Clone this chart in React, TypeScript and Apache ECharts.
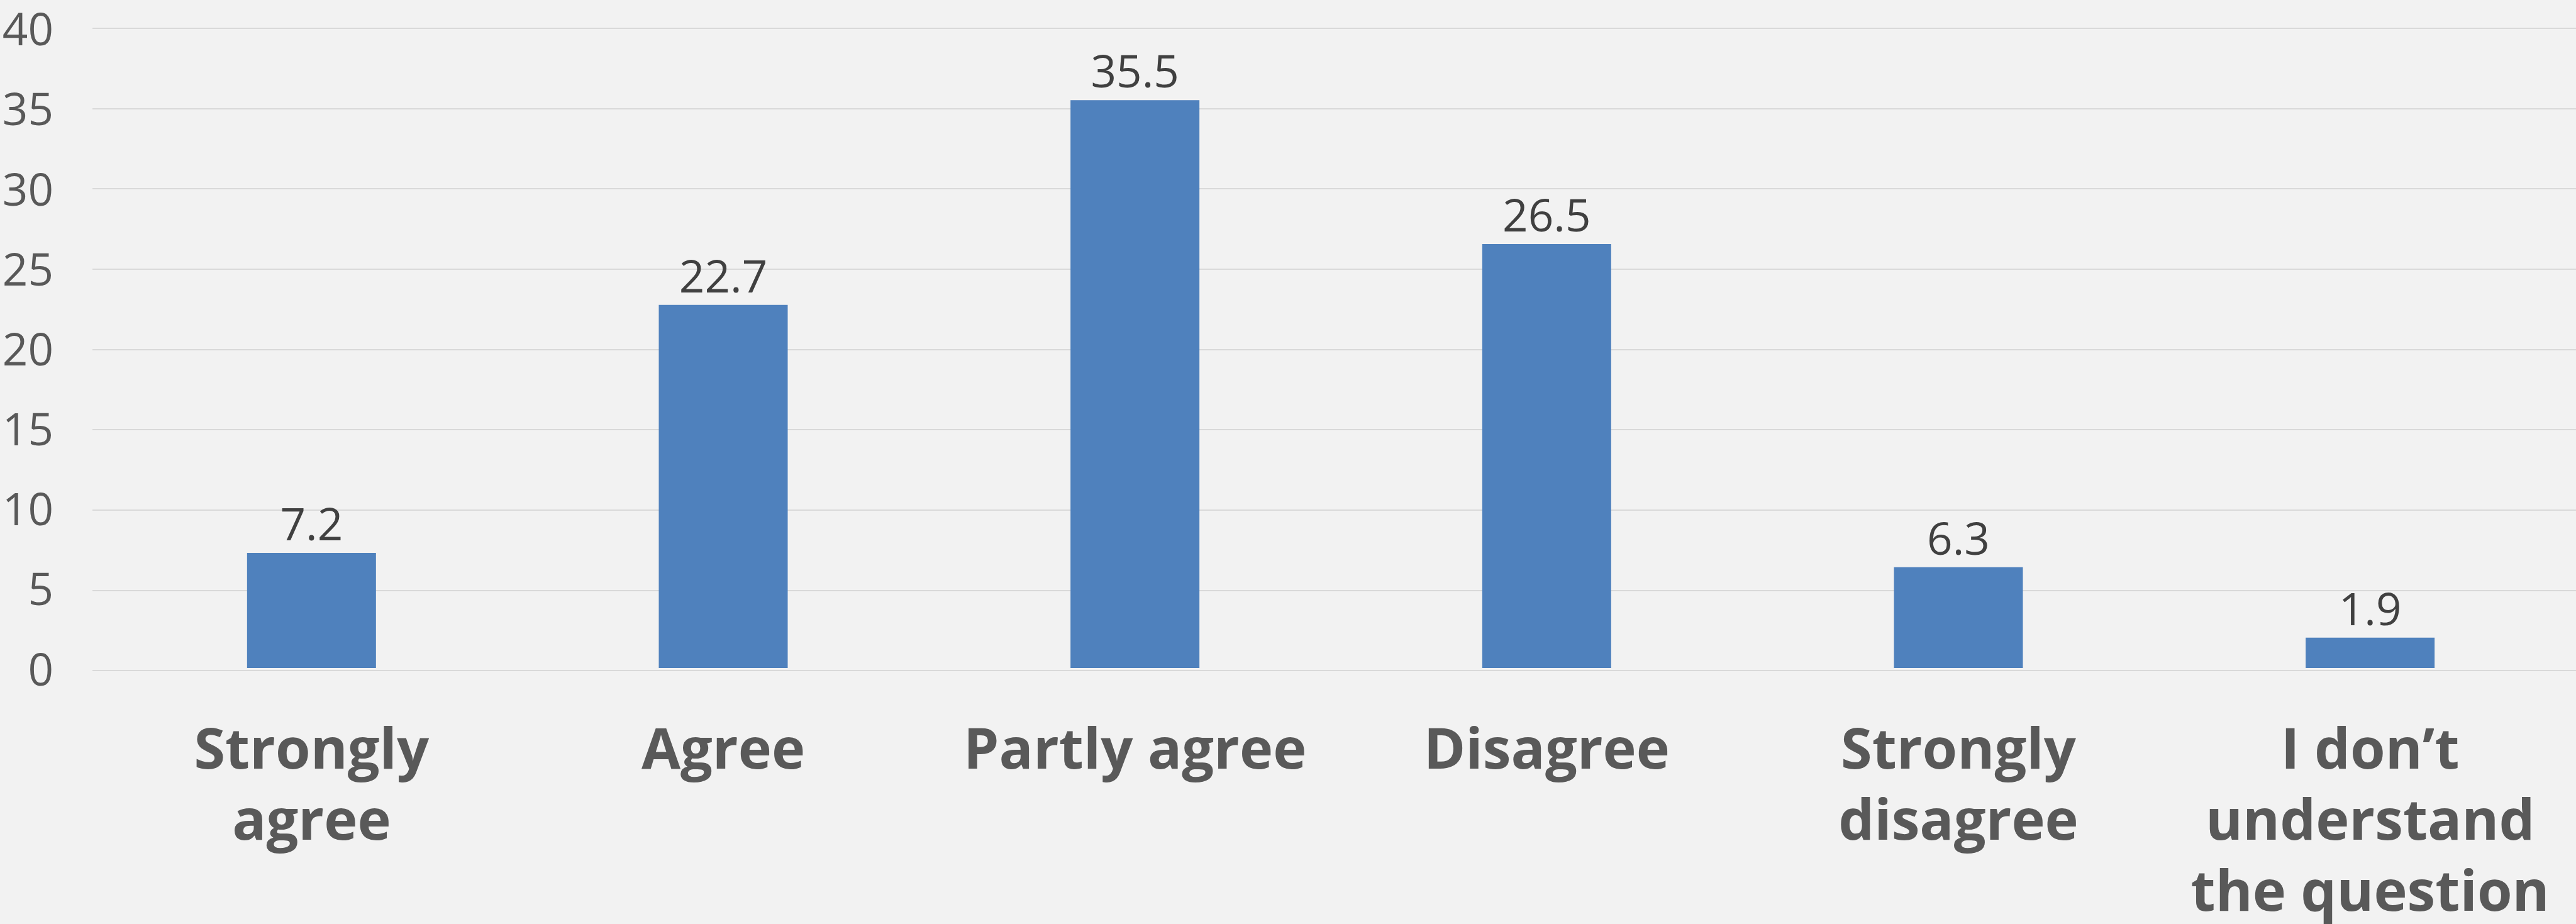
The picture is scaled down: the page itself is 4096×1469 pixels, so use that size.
import React, { useEffect, useRef } from "react";
import * as echarts from "echarts";

const categories = [
  "Strongly agree",
  "Agree",
  "Partly agree",
  "Disagree",
  "Strongly disagree",
  "I don\u2019t understand the question",
];
const wrappedLabels: Record<string, string> = {
  "Strongly agree": "Strongly\nagree",
  "Agree": "Agree",
  "Partly agree": "Partly agree",
  "Disagree": "Disagree",
  "Strongly disagree": "Strongly\ndisagree",
  "I don\u2019t understand the question": "I don\u2019t\nunderstand\nthe question",
};
const values = [7.2, 22.7, 35.5, 26.5, 6.3, 1.9];
const yMin = 0;
const yMax = 40;
const yStep = 5;

export default function App() {
  const ref = useRef<HTMLDivElement>(null);
  useEffect(() => {
    if (!ref.current) return;
    const chart = echarts.init(ref.current, null, { renderer: "svg" });
    const font = "'Open Sans', 'Noto Sans', sans-serif";
    chart.setOption({
      animation: false,
      backgroundColor: "#F2F2F2",
      grid: [
        { left: 168, top: 44.7, width: 3932, bottom: 403, containLabel: false },
        { left: 147, top: 44.7, right: 0, bottom: 403, containLabel: false },
      ],
      xAxis: [
        {
          type: "category",
          gridIndex: 0,
          data: categories,
          axisLine: { show: false },
          axisTick: { show: false },
          axisLabel: {
            interval: 0,
            margin: 68,
            color: "#595959",
            fontFamily: font,
            fontWeight: "bold",
            fontSize: 90,
            lineHeight: 113,
            formatter: (v: string) => wrappedLabels[v] ?? v,
          },
        },
        {
          type: "value",
          gridIndex: 1,
          show: false,
        },
      ],
      yAxis: [
        {
          type: "value",
          gridIndex: 0,
          min: yMin,
          max: yMax,
          interval: yStep,
          axisLine: { show: false },
          axisTick: { show: false },
          splitLine: { show: false },
          axisLabel: {
            margin: 83,
            color: "#595959",
            fontFamily: font,
            fontSize: 71,
            lineHeight: 71,
          },
        },
        {
          type: "value",
          gridIndex: 1,
          min: yMin,
          max: yMax,
          interval: yStep,
          axisLine: { show: false },
          axisTick: { show: false },
          axisLabel: { show: false },
          splitLine: { lineStyle: { color: "#D9D9D9", width: 2 } },
        },
      ],
      series: [
        {
          type: "bar",
          xAxisIndex: 0,
          yAxisIndex: 0,
          data: values,
          barWidth: 205,
          itemStyle: { color: "#4F81BD" },
          z: 3,
          label: {
            show: true,
            position: "top",
            distance: 12,
            color: "#404040",
            fontFamily: font,
            fontSize: 71,
            lineHeight: 71,
            formatter: (p: any) => p.value.toFixed(1),
          },
        },
      ],
    });
    return () => chart.dispose();
  }, []);
  return (
    <div
      ref={ref}
      style={{ position: "fixed", left: 0, top: 0, width: 4096, height: 1469 }}
    />
  );
}
